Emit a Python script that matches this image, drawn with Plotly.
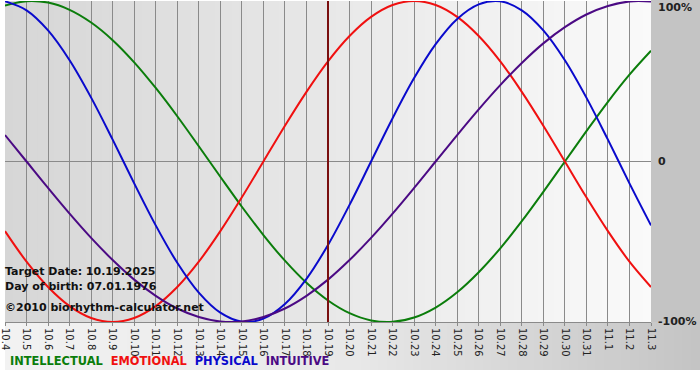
import plotly.graph_objects as go

# ---- data ----
dates = ["10.4", "10.5", "10.6", "10.7", "10.8", "10.9", "10.10", "10.11", "10.12", "10.13",
         "10.14", "10.15", "10.16", "10.17", "10.18", "10.19", "10.20", "10.21", "10.22", "10.23",
         "10.24", "10.25", "10.26", "10.27", "10.28", "10.29", "10.30", "10.31", "11.1", "11.2", "11.3"]

intellectual = [0.972, 0.999, 0.990, 0.945, 0.866, 0.756, 0.618, 0.458, 0.282, 0.095,
                -0.095, -0.282, -0.458, -0.618, -0.756, -0.866, -0.945, -0.990, -0.999, -0.972,
                -0.910, -0.815, -0.690, -0.541, -0.372, -0.189, 0.000, 0.189, 0.372, 0.541, 0.690]

emotional = [-0.434, -0.624, -0.782, -0.901, -0.975, -1.000, -0.975, -0.901, -0.782, -0.624,
             -0.434, -0.223, 0.000, 0.223, 0.434, 0.624, 0.782, 0.901, 0.975, 1.000,
             0.975, 0.901, 0.782, 0.624, 0.434, 0.223, 0.000, -0.223, -0.434, -0.624, -0.782]

physical = [0.998, 0.942, 0.817, 0.631, 0.398, 0.136, -0.136, -0.398, -0.631, -0.817,
            -0.942, -0.998, -0.979, -0.888, -0.731, -0.520, -0.270, 0.000, 0.270, 0.520,
            0.731, 0.888, 0.979, 0.998, 0.942, 0.817, 0.631, 0.398, 0.136, -0.136, -0.398]

intuitive = [0.165, 0.000, -0.165, -0.325, -0.476, -0.614, -0.736, -0.837, -0.916, -0.969,
             -0.997, -0.997, -0.969, -0.916, -0.837, -0.736, -0.614, -0.476, -0.325, -0.165,
             0.000, 0.165, 0.325, 0.476, 0.614, 0.736, 0.837, 0.916, 0.969, 0.997, 0.997]

target_date = "10.19"
series_names = ["INTELLECTUAL", "EMOTIONAL", "PHYSICAL", "INTUITIVE"]
y_tick_vals = [1, 0, -1]
y_tick_text = ["100%", "0", "-100%"]

# ---- styling ----
colors = {"INTELLECTUAL": "#0b7d0b", "EMOTIONAL": "#f01010",
          "PHYSICAL": "#0a0acc", "INTUITIVE": "#4b0a84"}
FONT = "DejaVu Sans"

W, H = 700, 380
ML, MR, MT, MB = 0, 49, 1, 58
PW = W - ML - MR
PH = H - MT - MB

xs = list(range(len(dates)))
fig = go.Figure()
for name, vals in zip(series_names, [intellectual, emotional, physical, intuitive]):
    fig.add_trace(go.Scatter(x=xs, y=vals, mode="lines", name=name,
                             line=dict(color=colors[name], width=2, shape="spline", smoothing=1.0),
                             hoverinfo="skip"))

shapes = []
def lerp(a, b, t):
    return a + (b - a) * t

# plot area gradient
N = 80
for i in range(N):
    t = (i + 0.5) / N
    g = int(round(lerp(214, 250, t)))
    shapes.append(dict(type="rect", xref="paper", yref="paper", x0=i / N, x1=(i + 1) / N + 0.002,
                       y0=0, y1=1, fillcolor=f"rgb({g},{g},{g})", line=dict(width=0), layer="below"))

# right margin
xr = W / PW
shapes.append(dict(type="rect", xref="paper", yref="paper", x0=1, x1=xr + 0.01,
                   y0=0, y1=1 + MT / PH + 0.01, fillcolor="rgb(196,196,196)",
                   line=dict(width=0), layer="below"))
# bottom strip gradient
ybot = -(370 - (MT + PH)) / PH
NB = 80
for i in range(NB):
    t = (i + 0.5) / NB
    if t < 0.5:
        g = lerp(242, 232, t / 0.5)
    else:
        g = lerp(232, 196, (t - 0.5) / 0.5)
    g = int(round(g))
    shapes.append(dict(type="rect", xref="paper", yref="paper", x0=xr * i / NB, x1=xr * (i + 1) / NB + 0.002,
                       y0=ybot, y1=0, fillcolor=f"rgb({g},{g},{g})", line=dict(width=0), layer="below"))

# target date marker
shapes.append(dict(type="line", xref="x", yref="paper", x0=dates.index(target_date), x1=dates.index(target_date),
                   y0=0, y1=1, line=dict(color="#7a1010", width=2), layer="above"))

def py(pix):
    return (MT + PH - pix) / PH

def px(pix):
    return (pix - ML) / PW

annotations = [
    dict(text="<b>Target Date: 10.19.2025</b>", x=px(-2), y=py(271)),
    dict(text="<b>Day of birth: 07.01.1976</b>", x=px(-2), y=py(286)),
    dict(text="<b>©2010 biorhythm-calculator.net</b>", x=px(-2), y=py(307)),
]
for a in annotations:
    a.update(xref="paper", yref="paper", xanchor="left", yanchor="middle", showarrow=False,
             font=dict(family=FONT, size=11, color="#111111"))

for v, t, ypix in zip(y_tick_vals, y_tick_text, [7, 162, 321]):
    annotations.append(dict(text=f"<b>{t}</b>", x=px(656), y=py(ypix), xref="paper", yref="paper",
                            xanchor="left", yanchor="middle", showarrow=False,
                            font=dict(family=FONT, size=11, color="#222222")))

legend_text = "  ".join(f'<span style="color:{colors[n]}">{n}</span>' for n in series_names)
annotations.append(dict(text=f"<b>{legend_text}</b>", x=px(3), y=py(361), xref="paper", yref="paper",
                        xanchor="left", yanchor="middle", showarrow=False,
                        font=dict(family=FONT, size=11.4)))

fig.update_layout(
    width=W, height=H,
    margin=dict(l=ML, r=MR, t=MT, b=MB, pad=0),
    paper_bgcolor="white", plot_bgcolor="rgba(0,0,0,0)",
    showlegend=False,
    shapes=shapes,
    annotations=annotations,
    xaxis=dict(range=[0, len(dates) - 1], tickmode="array", tickvals=xs, ticktext=dates,
               tickangle=90, tickfont=dict(family=FONT, size=10, color="#222222"),
               ticklabeloverflow="allow",
               showgrid=True, gridcolor="#8a8a8a", gridwidth=1,
               ticks="outside", ticklen=3, tickcolor="#8a8a8a",
               showline=True, linecolor="#8a8a8a", linewidth=1, zeroline=False, fixedrange=True),
    yaxis=dict(range=[-1, 1], showgrid=False, showticklabels=False, ticks="",
               zeroline=True, zerolinecolor="#8a8a8a", zerolinewidth=1, fixedrange=True),
)

fig.write_html("out.html", config={"displayModeBar": False},
               post_script="document.body.style.margin='0';document.body.style.padding='0';document.body.style.overflow='hidden';")
